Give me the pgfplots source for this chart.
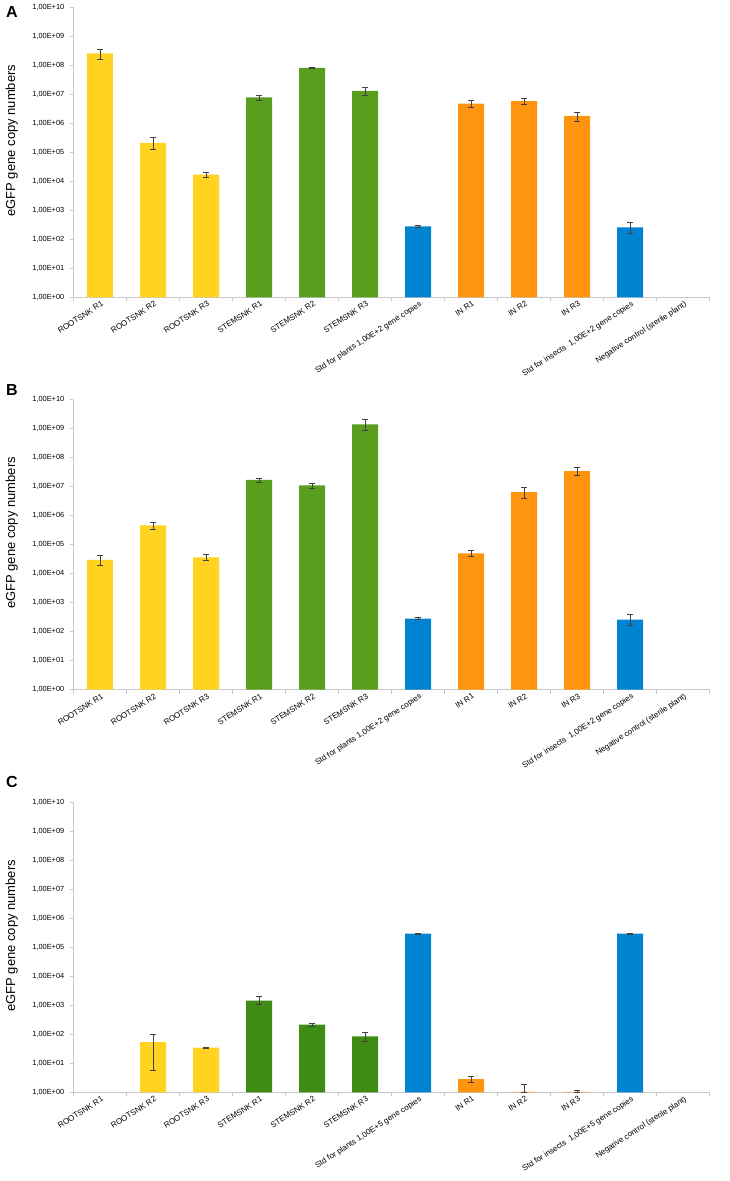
\documentclass[border=0pt]{standalone}
\usepackage{fontspec}
\setmainfont{Liberation Sans}
\usepackage{pgfplots}
\pgfplotsset{compat=1.18}

\definecolor{cyellow}{HTML}{FFD320}
\definecolor{cgreen}{HTML}{5A9E1E}
\definecolor{cdkgreen}{HTML}{3E8C14}
\definecolor{corange}{HTML}{FF950E}
\definecolor{cblue}{HTML}{0084D1}
\definecolor{caxis}{HTML}{C8C8C8}

\pgfplotsset{
  qbar/.style={ybar, bar width=26pt, bar shift=0pt, draw=none, fill=#1,
    error bars/.cd, y dir=both, y explicit,
    error bar style={draw=black!75, line width=0.6pt},
    error mark options={rotate=90, draw=black!75, line width=0.6pt, mark size=2.6pt}},
}

\begin{document}
\begin{tikzpicture}
\path[use as bounding box] (0,0) rectangle (730pt,-1181pt);

% ---------- A ----------
\node[anchor=north west, font=\bfseries\fontsize{16}{16}\selectfont, inner sep=0pt] at (6pt,-6pt) {A};
\begin{axis}[at={(73.5pt,-297.3pt)}, anchor=south west,
    scale only axis, width=636pt, height=290pt,
    xmin=-0.5, xmax=11.5, ymode=log, ymin=1, ymax=1e10,
    axis x line*=bottom, axis y line*=left,
    axis line style={draw=caxis, line width=0.8pt},
    tick style={draw=caxis, line width=0.8pt},
    tick align=outside, major tick length=4pt, yminorticks=false,
    ytick={1e0,1e1,1e2,1e3,1e4,1e5,1e6,1e7,1e8,1e9,1e10},
    yticklabels={{1,00E+00},{1,00E+01},{1,00E+02},{1,00E+03},{1,00E+04},{1,00E+05},{1,00E+06},{1,00E+07},{1,00E+08},{1,00E+09},{1,00E+10}},
    yticklabel style={font=\fontsize{7.4}{8}\selectfont, inner sep=1pt, xshift=-4pt},
    xtick={-0.5,0.5,...,11.5}, xticklabels={},
    extra x tick style={major tick length=0pt,
      xticklabel style={rotate=33, anchor=north east, inner sep=1pt, yshift=-2pt,
        font=\fontsize{8}{8}\selectfont}},
    ylabel={eGFP gene copy numbers},
    ylabel style={at={(axis description cs:-0.097,0.54)}, anchor=center,
      font=\fontsize{13}{14}\selectfont},
  extra x ticks={0,...,11},
  extra x tick labels={ROOTSNK R1,ROOTSNK R2,ROOTSNK R3,STEMSNK R1,STEMSNK R2,STEMSNK R3,
    {Std for plants 1,00E+2 gene copies},IN R1,IN R2,IN R3,
    {Std for insects\ \ 1,00E+2 gene copies},Negative control (sterile plant)}]
\addplot[qbar=cyellow] coordinates {
  (0,2.6e8) += (0,1.0e8) -= (0,1.0e8)
  (1,2.1e5) += (0,1.1e5) -= (0,0.8e5)
  (2,1.7e4) += (0,0.3e4) -= (0,0.3e4)
};
\addplot[qbar=cgreen] coordinates {
  (3,7.8e6) += (0,1.8e6) -= (0,1.8e6)
  (4,8.1e7) += (0,0.4e7) -= (0,0.4e7)
  (5,1.3e7) += (0,0.4e7) -= (0,0.35e7)
};
\addplot[qbar=cblue] coordinates {
  (6,2.8e2) += (0,0.2e2) -= (0,0.2e2)
  (10,2.6e2) += (0,1.4e2) -= (0,1.0e2)
};
\addplot[qbar=corange] coordinates {
  (7,4.8e6) += (0,1.2e6) -= (0,1.2e6)
  (8,5.8e6) += (0,1.2e6) -= (0,1.2e6)
  (9,1.8e6) += (0,0.6e6) -= (0,0.6e6)
};
\end{axis}

% ---------- B ----------
\node[anchor=north west, font=\bfseries\fontsize{16}{16}\selectfont, inner sep=0pt] at (6pt,-384pt) {B};
\begin{axis}[at={(73.5pt,-689.6pt)}, anchor=south west,
    scale only axis, width=636pt, height=290pt,
    xmin=-0.5, xmax=11.5, ymode=log, ymin=1, ymax=1e10,
    axis x line*=bottom, axis y line*=left,
    axis line style={draw=caxis, line width=0.8pt},
    tick style={draw=caxis, line width=0.8pt},
    tick align=outside, major tick length=4pt, yminorticks=false,
    ytick={1e0,1e1,1e2,1e3,1e4,1e5,1e6,1e7,1e8,1e9,1e10},
    yticklabels={{1,00E+00},{1,00E+01},{1,00E+02},{1,00E+03},{1,00E+04},{1,00E+05},{1,00E+06},{1,00E+07},{1,00E+08},{1,00E+09},{1,00E+10}},
    yticklabel style={font=\fontsize{7.4}{8}\selectfont, inner sep=1pt, xshift=-4pt},
    xtick={-0.5,0.5,...,11.5}, xticklabels={},
    extra x tick style={major tick length=0pt,
      xticklabel style={rotate=33, anchor=north east, inner sep=1pt, yshift=-2pt,
        font=\fontsize{8}{8}\selectfont}},
    ylabel={eGFP gene copy numbers},
    ylabel style={at={(axis description cs:-0.097,0.54)}, anchor=center,
      font=\fontsize{13}{14}\selectfont},
  extra x ticks={0,...,11},
  extra x tick labels={ROOTSNK R1,ROOTSNK R2,ROOTSNK R3,STEMSNK R1,STEMSNK R2,STEMSNK R3,
    {Std for plants 1,00E+2 gene copies},IN R1,IN R2,IN R3,
    {Std for insects\ \ 1,00E+2 gene copies},Negative control (sterile plant)}]
\addplot[qbar=cyellow] coordinates {
  (0,3.0e4) += (0,1.2e4) -= (0,1.1e4)
  (1,4.6e5) += (0,1.1e5) -= (0,1.1e5)
  (2,3.6e4) += (0,1.1e4) -= (0,0.8e4)
};
\addplot[qbar=cgreen] coordinates {
  (3,1.7e7) += (0,0.3e7) -= (0,0.3e7)
  (4,1.1e7) += (0,0.25e7) -= (0,0.25e7)
  (5,1.4e9) += (0,0.7e9) -= (0,0.5e9)
};
\addplot[qbar=cblue] coordinates {
  (6,2.8e2) += (0,0.2e2) -= (0,0.2e2)
  (10,2.6e2) += (0,1.4e2) -= (0,1.0e2)
};
\addplot[qbar=corange] coordinates {
  (7,5.0e4) += (0,1.2e4) -= (0,1.2e4)
  (8,6.5e6) += (0,3.0e6) -= (0,2.5e6)
  (9,3.4e7) += (0,1.2e7) -= (0,1.0e7)
};
\end{axis}

% ---------- C ----------
\node[anchor=north west, font=\bfseries\fontsize{16}{16}\selectfont, inner sep=0pt] at (6pt,-776pt) {C};
\begin{axis}[at={(73.5pt,-1092.4pt)}, anchor=south west,
    scale only axis, width=636pt, height=290pt,
    xmin=-0.5, xmax=11.5, ymode=log, ymin=1, ymax=1e10,
    axis x line*=bottom, axis y line*=left,
    axis line style={draw=caxis, line width=0.8pt},
    tick style={draw=caxis, line width=0.8pt},
    tick align=outside, major tick length=4pt, yminorticks=false,
    ytick={1e0,1e1,1e2,1e3,1e4,1e5,1e6,1e7,1e8,1e9,1e10},
    yticklabels={{1,00E+00},{1,00E+01},{1,00E+02},{1,00E+03},{1,00E+04},{1,00E+05},{1,00E+06},{1,00E+07},{1,00E+08},{1,00E+09},{1,00E+10}},
    yticklabel style={font=\fontsize{7.4}{8}\selectfont, inner sep=1pt, xshift=-4pt},
    xtick={-0.5,0.5,...,11.5}, xticklabels={},
    extra x tick style={major tick length=0pt,
      xticklabel style={rotate=33, anchor=north east, inner sep=1pt, yshift=-2pt,
        font=\fontsize{8}{8}\selectfont}},
    ylabel={eGFP gene copy numbers},
    ylabel style={at={(axis description cs:-0.097,0.54)}, anchor=center,
      font=\fontsize{13}{14}\selectfont},
  extra x ticks={0,...,11},
  extra x tick labels={ROOTSNK R1,ROOTSNK R2,ROOTSNK R3,STEMSNK R1,STEMSNK R2,STEMSNK R3,
    {Std for plants 1,00E+5 gene copies},IN R1,IN R2,IN R3,
    {Std for insects\ \ 1,00E+5 gene copies},Negative control (sterile plant)}]
\addplot[qbar=cyellow] coordinates {
  (1,54) += (0,51) -= (0,48)
  (2,35) += (0,1) -= (0,1)
};
\addplot[qbar=cdkgreen] coordinates {
  (3,1450) += (0,550) -= (0,350)
  (4,218) += (0,27) -= (0,23)
  (5,86) += (0,34) -= (0,26)
};
\addplot[qbar=cblue] coordinates {
  (6,3.0e5) += (0,0.1e5) -= (0,0.1e5)
  (10,3.0e5) += (0,0.1e5) -= (0,0.1e5)
};
\addplot[qbar=corange] coordinates {
  (7,2.9) += (0,0.7) -= (0,0.6)
  (8,1.05) += (0,0.85) -= (0,0)
  (9,1.05) += (0,0.1) -= (0,0.04)
};
\end{axis}
\end{tikzpicture}
\end{document}
